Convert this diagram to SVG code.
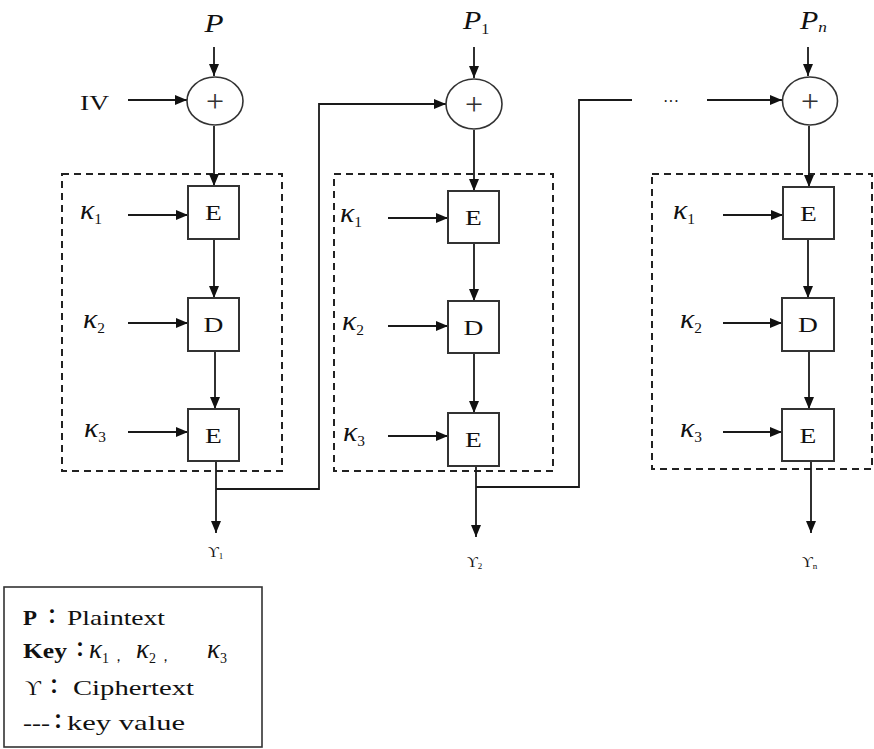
<svg xmlns="http://www.w3.org/2000/svg" width="874" height="749" viewBox="0 0 874 749">
<defs>
<marker id="ah" viewBox="0 0 12 10" refX="12" refY="5" markerWidth="12" markerHeight="10" markerUnits="userSpaceOnUse" orient="auto">
<path d="M0,0 L12,5 L0,10 z" fill="#111"/>
</marker>
</defs>
<style>
.ln{fill:none;stroke:#1a1a1a;stroke-width:1.8}
.ar{fill:none;stroke:#1a1a1a;stroke-width:1.8;marker-end:url(#ah)}
.box{fill:#fff;stroke:#333;stroke-width:2}
.dash{fill:none;stroke:#222;stroke-width:2;stroke-dasharray:7 5}
.xor{fill:#fff;stroke:#333;stroke-width:1.6}
.t{font-family:"Liberation Serif","DejaVu Serif",serif;fill:#111}
.pl{font-size:32px;text-anchor:middle;fill:#333}
.blk{font-size:22px;text-anchor:middle}
.it{font-style:italic}
.k{font-size:27px;font-style:italic}
.sub{font-size:14px;font-style:normal}
.lg{font-size:22px}
.b{font-weight:bold}
.cl{font-family:"Liberation Serif","Noto Sans CJK JP",serif;font-size:20px;text-anchor:middle;font-weight:bold;fill:#111}
</style>
<rect width="874" height="749" fill="#fff"/>

<g id="frames">
<rect class="dash" x="62" y="174" width="220" height="297"/>
<rect class="dash" x="334" y="174" width="219" height="297"/>
<rect class="dash" x="652" y="174" width="220" height="295"/>
</g>

<g id="connectors">
<line class="ar" x1="214" y1="47" x2="214" y2="76"/>
<line class="ar" x1="128" y1="100" x2="187" y2="100"/>
<line class="ar" x1="214" y1="126" x2="214" y2="186"/>
<line class="ar" x1="128" y1="215" x2="188" y2="215"/>
<line class="ar" x1="214" y1="239" x2="214" y2="298"/>
<line class="ar" x1="128" y1="323" x2="188" y2="323"/>
<line class="ar" x1="215" y1="351" x2="215" y2="409"/>
<line class="ar" x1="128" y1="432" x2="188" y2="432"/>
<line class="ar" x1="216" y1="461" x2="216" y2="533"/>
<polyline class="ar" points="216,489 319,489 319,104 446,104"/>

<line class="ar" x1="474" y1="47" x2="474" y2="78"/>
<line class="ar" x1="474" y1="130" x2="474" y2="191"/>
<line class="ar" x1="388" y1="218" x2="448" y2="218"/>
<line class="ar" x1="474" y1="243" x2="474" y2="301"/>
<line class="ar" x1="388" y1="326" x2="448" y2="326"/>
<line class="ar" x1="474" y1="353" x2="474" y2="413"/>
<line class="ar" x1="388" y1="436" x2="448" y2="436"/>
<line class="ar" x1="476" y1="466" x2="476" y2="537"/>
<polyline class="ln" points="476,487 579,487 579,100 632,100"/>
<line class="ar" x1="707" y1="100" x2="782" y2="100"/>

<line class="ar" x1="808" y1="47" x2="808" y2="76"/>
<line class="ar" x1="809" y1="126" x2="809" y2="187"/>
<line class="ar" x1="723" y1="215" x2="783" y2="215"/>
<line class="ar" x1="808" y1="239" x2="808" y2="298"/>
<line class="ar" x1="723" y1="323" x2="782" y2="323"/>
<line class="ar" x1="809" y1="351" x2="809" y2="409"/>
<line class="ar" x1="723" y1="432" x2="782" y2="432"/>
<line class="ar" x1="811" y1="461" x2="811" y2="533"/>
</g>

<g id="xor1"><ellipse class="xor" cx="215" cy="101" rx="28" ry="24"/><text class="t pl" x="215" y="112">+</text></g>
<g id="xor2"><ellipse class="xor" cx="474" cy="104" rx="28" ry="25"/><text class="t pl" x="474" y="115">+</text></g>
<g id="xor3"><ellipse class="xor" cx="810" cy="101" rx="27.5" ry="24"/><text class="t pl" x="810" y="112">+</text></g>

<g id="c1-e1"><rect class="box" x="188" y="186" width="51" height="53"/><text class="t blk" transform="translate(213.5,220) scale(1.25,1)">E</text></g>
<g id="c1-d"><rect class="box" x="188" y="298" width="51" height="53"/><text class="t blk" transform="translate(213.5,332) scale(1.25,1)">D</text></g>
<g id="c1-e3"><rect class="box" x="188" y="409" width="51" height="52"/><text class="t blk" transform="translate(213.5,443) scale(1.25,1)">E</text></g>

<g id="c2-e1"><rect class="box" x="448" y="191" width="51" height="52"/><text class="t blk" transform="translate(473.5,225) scale(1.25,1)">E</text></g>
<g id="c2-d"><rect class="box" x="448" y="301" width="51" height="52"/><text class="t blk" transform="translate(473.5,335) scale(1.25,1)">D</text></g>
<g id="c2-e3"><rect class="box" x="448" y="413" width="51" height="53"/><text class="t blk" transform="translate(473.5,447) scale(1.25,1)">E</text></g>

<g id="c3-e1"><rect class="box" x="783" y="187" width="51" height="52"/><text class="t blk" transform="translate(808.5,221) scale(1.25,1)">E</text></g>
<g id="c3-d"><rect class="box" x="782" y="298" width="52" height="53"/><text class="t blk" transform="translate(808,332) scale(1.25,1)">D</text></g>
<g id="c3-e3"><rect class="box" x="782" y="409" width="52" height="52"/><text class="t blk" transform="translate(808,443) scale(1.25,1)">E</text></g>

<g id="labels">
<text class="t it" font-size="26" transform="translate(214,32) scale(1.2,1)" text-anchor="middle">P</text>
<text class="t it" font-size="26" transform="translate(463,29) scale(1.15,1)">P<tspan class="sub" dy="5" font-size="16">1</tspan></text>
<text class="t it" font-size="26" transform="translate(800,29) scale(1.15,1)">P<tspan dy="3" font-size="15">n</tspan></text>
<text class="t" font-size="22" transform="translate(80,110) scale(1.25,1)">IV</text>

<text class="t k" transform="translate(80,219) scale(1.1,1)">κ<tspan class="sub" dy="5">1</tspan></text>
<text class="t k" transform="translate(83,328) scale(1.1,1)">κ<tspan class="sub" dy="5">2</tspan></text>
<text class="t k" transform="translate(84,437) scale(1.1,1)">κ<tspan class="sub" dy="5">3</tspan></text>
<text class="t k" transform="translate(340,222) scale(1.1,1)">κ<tspan class="sub" dy="5">1</tspan></text>
<text class="t k" transform="translate(342,330) scale(1.1,1)">κ<tspan class="sub" dy="5">2</tspan></text>
<text class="t k" transform="translate(343,441) scale(1.1,1)">κ<tspan class="sub" dy="5">3</tspan></text>
<text class="t k" transform="translate(673,219) scale(1.1,1)">κ<tspan class="sub" dy="5">1</tspan></text>
<text class="t k" transform="translate(680,328) scale(1.1,1)">κ<tspan class="sub" dy="5">2</tspan></text>
<text class="t k" transform="translate(680,437) scale(1.1,1)">κ<tspan class="sub" dy="5">3</tspan></text>

<text class="t" x="671" y="107" font-size="16" text-anchor="middle">···</text>

<text class="t" x="208" y="557" font-size="15">ϒ<tspan dy="2" font-size="9">1</tspan></text>
<text class="t" x="467" y="567" font-size="15">ϒ<tspan dy="2" font-size="9">2</tspan></text>
<text class="t" x="802" y="567" font-size="15">ϒ<tspan dy="2" font-size="9">n</tspan></text>
</g>

<g id="legend">
<rect x="4" y="587" width="258" height="160" fill="#fff" stroke="#333" stroke-width="1.6"/>
<text class="t lg b" x="23" y="625" textLength="14" lengthAdjust="spacingAndGlyphs">P</text>
<text class="cl" x="52" y="624">：</text>
<text class="t lg" x="67" y="625" textLength="98" lengthAdjust="spacingAndGlyphs">Plaintext</text>

<text class="t lg b" x="23" y="658" textLength="44" lengthAdjust="spacingAndGlyphs">Key</text>
<text class="cl" x="80" y="657">：</text>
<text class="t k" x="89" y="658" font-size="25">κ<tspan class="sub" dy="5">1</tspan></text>
<text class="t" x="111" y="661" font-size="15">，</text>
<text class="t k" x="136" y="658" font-size="25">κ<tspan class="sub" dy="5">2</tspan></text>
<text class="t" x="158" y="661" font-size="15">，</text>
<text class="t k" x="207" y="658" font-size="25">κ<tspan class="sub" dy="5">3</tspan></text>

<text class="t lg" x="25" y="695">ϒ</text>
<text class="cl" x="54" y="694">：</text>
<text class="t lg" x="73" y="695" textLength="121" lengthAdjust="spacingAndGlyphs">Ciphertext</text>

<text class="t lg" x="23" y="730" textLength="27" lengthAdjust="spacingAndGlyphs">---</text>
<text class="cl" x="58" y="729">：</text>
<text class="t lg" x="67" y="730" textLength="118" lengthAdjust="spacingAndGlyphs">key value</text>
</g>
</svg>
